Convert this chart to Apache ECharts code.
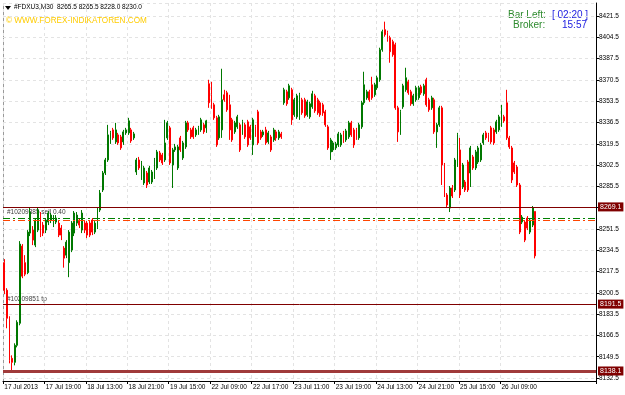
<!DOCTYPE html>
<html><head><meta charset="utf-8">
<script src="https://cdn.jsdelivr.net/npm/echarts@6/dist/echarts.min.js"></script>
<style>html,body{margin:0;padding:0;background:#fff}#c{width:625px;height:395px}</style>
</head><body><div id="c"></div>
<script>
const xTickLabels = ['17 Jul 2013','17 Jul 19:00','18 Jul 13:00','18 Jul 21:00','19 Jul 15:00','22 Jul 09:00','22 Jul 17:00','23 Jul 11:00','23 Jul 19:00','24 Jul 13:00','24 Jul 21:00','25 Jul 15:00','26 Jul 09:00'];
const opens = [
8224.6,8202.6,8180.2,8148.2,8145,8158.6,8176.2,8237.8,8224.6,8216.6,
8248.2,8250.6,8238.6,8250.6,8262.6,8254.6,8250.6,8257,8258.6,8254.6,
8257,8256.2,8252.2,8236.2,8230.6,8224.6,8234.6,8248.2,8256.2,8258.6,
8250.6,8256.2,8256.2,8256.2,8258.6,8249,8253,8266.6,8282.6,8296.2,
8306.6,8321,8330.6,8321,8326.6,8325,8321,8328.2,8328.2,8330.6,
8324.2,8297,8306.6,8293,8288.2,8296.2,8289,8289,8293,8300.2,
8312.2,8310.6,8306.6,8324.2,8332.2,8302.6,8314.6,8300.2,8324.2,8308.2,
8317,8336.2,8330.6,8332.2,8326.6,8328.2,8330.6,8334.6,8332.2,8367.4,
8358.6,8350.6,8340.2,8324.2,8330.6,8358.6,8360.2,8350.6,8338.6,8329,
8333,8334.6,8328.2,8334.6,8337,8333,8318.6,8333,8345,8329,
8326.6,8330.6,8321,8325,8322.6,8329,8324.2,8327.4,8352.2,8361,
8356.2,8362.6,8342.6,8341,8340.2,8354.6,8354.6,8342.6,8341,8349,
8357.8,8354.6,8352.2,8350.6,8345,8333,8313,8314.6,8316.2,8318.6,
8318.6,8328.2,8322.6,8325,8336.2,8330.6,8330.6,8324.2,8333,8352.2,
8356.2,8361,8366.6,8358.6,8364.2,8370.6,8394.6,8410.6,8408.2,8404.2,
8401,8398.6,8348.2,8328.2,8349,8362.6,8369,8361,8351.4,8354.6,
8356.2,8365,8359.4,8370.6,8354.6,8348.2,8354.6,8329,8334.6,8348.2,
8302.6,8278.6,8268.2,8284.2,8282.6,8302.6,8314.6,8285,8289,8305,
8296.2,8309,8300.2,8305,8306.6,8320.2,8328.2,8326.6,8332.2,8330.6,
8329,8330.6,8334.6,8341,8352.2,8324.2,8316.2,8304.2,8301,8286.6,
8257,8257,8260.2,8249,8254.6,8265.5];
const closes = [
8202.6,8180.2,8146.6,8145,8158.6,8177,8239.4,8213.8,8215.4,8249,
8265,8242.6,8258.6,8266.6,8246.6,8248.2,8258.6,8264.2,8262.6,8260.2,
8260.2,8246.6,8246.6,8228.2,8241,8249,8256.2,8264.2,8262.6,8254.6,
8264.2,8250.6,8246.6,8246.6,8249,8256.2,8266.6,8280.2,8296.2,8306.6,
8326.6,8328.2,8324.2,8330.6,8320.2,8316.2,8329,8330.6,8337.8,8321.8,
8327.4,8306.6,8300.2,8304.2,8300.2,8286.6,8300.2,8297,8306.6,8313,
8306.6,8304.2,8320.2,8336.2,8304.2,8314.6,8317,8317,8314.6,8320.2,
8336.2,8330.6,8325,8325,8330.6,8332.2,8338.6,8329,8337.8,8352.2,
8349,8340.2,8318.6,8341,8354.6,8354.6,8346.6,8330.6,8322.6,8336.2,
8341,8314.6,8337,8325,8318.6,8324.2,8338.6,8326.6,8320.2,8324.2,
8329,8320.2,8328.2,8314.6,8330.6,8324.2,8329,8325,8362.6,8351.4,
8365.8,8338.6,8354.6,8357.8,8358.6,8344.2,8341.8,8353,8351.4,8359.4,
8345.8,8344.2,8342.6,8344.2,8334.6,8316.2,8322.6,8320.2,8319.4,8327.4,
8326.6,8321.8,8329.8,8336.2,8326.6,8318.6,8324.2,8334.6,8352.2,8366.6,
8361,8354.6,8356.2,8366.6,8372.2,8394.6,8409,8406.6,8402.6,8393,
8390.6,8348.2,8329,8345,8365.8,8372.2,8360.2,8351.4,8357.8,8364.2,
8364.2,8360.2,8365.8,8350.6,8346.6,8356.2,8329,8334.6,8348.2,8302.6,
8278.6,8270.6,8284.2,8277.8,8306.6,8326.6,8278.6,8302.6,8282.6,8282.6,
8316.2,8300.2,8313,8316.2,8318.6,8326.6,8324.2,8322.6,8321,8320.2,
8337,8341,8348.2,8337.8,8324.2,8317,8290.6,8297,8286.6,8249,
8261,8242.6,8252.2,8258.6,8268.2,8230.0];
const lows = [
8199.4,8172.2,8144.2,8137,8142.6,8157,8174.6,8212.2,8213.8,8215.4,
8245.8,8238.6,8237,8249,8245,8245.8,8248.2,8254.6,8256.2,8253,
8255.4,8245,8242.6,8220.6,8228.2,8213,8233,8245.8,8253.8,8252.2,
8248.2,8248.2,8244.2,8245,8246.6,8247.4,8251.4,8265,8281,8294.6,
8305,8319.4,8322.6,8319.4,8318.6,8314.6,8318.6,8326.6,8326.6,8320.2,
8322.6,8294.6,8298.6,8290.6,8286.6,8284.2,8287.4,8287.4,8291.4,8298.6,
8305,8302.6,8305,8322.6,8302.6,8284.2,8313,8298.6,8313,8306.6,
8315.4,8329,8323.4,8323.4,8325,8326.6,8329,8327.4,8328.2,8348.2,
8347.4,8338.6,8317,8322.6,8324.2,8353,8345,8322.6,8321,8327.4,
8331.4,8313,8326.6,8323.4,8317,8322.6,8310.6,8325,8318.6,8322.6,
8325,8318.6,8319.4,8313,8321,8321.8,8322.6,8323.4,8350.6,8349.8,
8354.6,8334.6,8341,8339.4,8338.6,8342.6,8340.2,8341,8339.4,8347.4,
8344.2,8342.6,8341,8341.8,8333,8314.6,8306.6,8313,8314.6,8317,
8317,8320.2,8321,8323.4,8325,8316.2,8322.6,8322.6,8331.4,8350.6,
8354.6,8353,8354.6,8357,8362.6,8369,8393,8405,8401,8384.2,
8389,8346.6,8321,8326.6,8347.4,8361,8358.6,8349.8,8349.8,8353,
8354.6,8358.6,8357.8,8349,8345,8346.6,8327.4,8316.2,8333,8286.6,
8277,8268.2,8265,8276.2,8281,8301,8276.2,8283.4,8281,8281,
8285,8298.6,8298.6,8303.4,8305,8318.6,8322.6,8321,8319.4,8318.6,
8327.4,8329,8333,8336.2,8322.6,8315.4,8288.2,8295.4,8285,8247.4,
8255.4,8241,8250.6,8247.4,8253,8228.0];
const highs = [
8227.4,8204.2,8181.8,8150.6,8160.2,8178.6,8241.8,8239.4,8230.6,8250.6,
8268.2,8253.8,8260.2,8269,8265,8257,8260.2,8265.8,8264.2,8262.6,
8262.6,8258.6,8254.6,8237.8,8242.6,8250.6,8257.8,8265.8,8265,8260.2,
8266.6,8258.6,8257.8,8257.8,8260.2,8257.8,8268.2,8282.6,8297.8,8308.2,
8334.6,8329.8,8332.2,8336.2,8328.2,8326.6,8330.6,8332.2,8340.2,8332.2,
8329,8308.2,8309,8305.8,8301.8,8297.8,8301.8,8298.6,8308.2,8314.6,
8313.8,8312.2,8338.6,8337.8,8333.8,8316.2,8319.4,8318.6,8325.8,8321.8,
8337.8,8337.8,8332.2,8333.8,8332.2,8333.8,8340.2,8336.2,8338.6,8370.6,
8369,8352.2,8341.8,8342.6,8379.4,8362.6,8361.8,8358.6,8340.2,8337.8,
8342.6,8336.2,8338.6,8336.2,8338.6,8334.6,8340.2,8334.6,8346.6,8330.6,
8330.6,8333,8329.8,8326.6,8332.2,8330.6,8330.6,8329,8364.2,8362.6,
8367.4,8364.2,8356.2,8359.4,8360.2,8356.2,8356.2,8354.6,8353,8361.8,
8359.4,8356.2,8353.8,8352.2,8346.6,8334.6,8324.2,8321.8,8321,8329,
8328.2,8329.8,8331.4,8337.8,8337.8,8332.2,8332.2,8336.2,8353.8,8377,
8362.6,8362.6,8373,8368.2,8373.8,8396.2,8410.6,8417,8409.8,8405.8,
8402.6,8400.2,8349.8,8346.6,8367.4,8380.2,8370.6,8362.6,8359.4,8365.8,
8365.8,8366.6,8367.4,8372.2,8356.2,8357.8,8356.2,8336.2,8349.8,8349.8,
8304.2,8280.2,8285.8,8286.6,8308.2,8328.2,8324.2,8304.2,8290.6,8306.6,
8317.8,8310.6,8314.6,8317.8,8320.2,8328.2,8329.8,8328.2,8333.8,8332.2,
8338.6,8342.6,8350.6,8342.6,8362.6,8325.8,8317.8,8305.8,8302.6,8288.2,
8262.6,8258.6,8261.8,8260.2,8269.8,8265.5];
const levelUpper = 8269.1, levelTP = 8191.5, levelLow = 8138.1, bidPrice = 8230.0;
const orderOpen = 8260.0, orderStop = 8258.3;
const yTicks = {min: 8132.5, max: 8431.9, step: 17};

const SLOTS = 229, LABEL_EVERY = 16;
const cats = Array.from({length: SLOTS}, (_, i) => String(i));
const candles = opens.map((o, i) => [o, closes[i], lows[i], highs[i]]);
const isLab = (i) => i % LABEL_EVERY === 0 && i / LABEL_EVERY < xTickLabels.length;
const F = 'Liberation Sans, Arial, sans-serif';
const boxLabel = (bg) => ({show: true, position: 'end', distance: 2, formatter: (p) => p.value.toFixed(1),
  color: '#fff', backgroundColor: bg, padding: [1, 2, 0, 2], fontSize: 7, fontFamily: F, lineHeight: 8});

const chart = echarts.init(document.getElementById('c'), null, {renderer: 'canvas'});
chart.setOption({
  animation: false,
  backgroundColor: '#fff',
  grid: {left: 3, right: 29, top: 3, bottom: 17, show: false},
  xAxis: {
    type: 'category', data: cats, boundaryGap: true, offset: 3,
    axisLine: {show: true, lineStyle: {color: '#000', width: 1}},
    axisTick: {show: true, interval: (i) => isLab(i), length: 3, lineStyle: {color: '#000'}},
    axisLabel: {interval: (i) => isLab(i), formatter: (v, i) => xTickLabels[i / LABEL_EVERY] || '',
      align: 'left', fontSize: 6.5, fontFamily: F, color: '#000', margin: 3},
    splitLine: {show: true, interval: (i) => isLab(i), lineStyle: {type: [3, 3], color: '#e3e3e3'}}
  },
  yAxis: {
    type: 'value', position: 'right', min: yTicks.min, max: yTicks.max, interval: yTicks.step, scale: true,
    axisLine: {show: true, lineStyle: {color: '#000'}},
    axisTick: {show: true, length: 3, lineStyle: {color: '#000'}},
    axisLabel: {formatter: (v) => v.toFixed(1), fontSize: 6.5, fontFamily: F, color: '#000', margin: 3,
      showMaxLabel: false},
    splitLine: {show: true, lineStyle: {type: [3, 3], color: '#e3e3e3'}}
  },
  series: [{
    type: 'candlestick', data: candles, barWidth: 1.4,
    itemStyle: {color: '#007800', color0: '#ff0000', borderColor: '#007800', borderColor0: '#ff0000', borderWidth: 1},
    markLine: {
      symbol: ['none', 'none'], silent: true, animation: false,
      data: [
        {yAxis: orderOpen, lineStyle: {color: '#008000', width: 1, type: [7, 3, 2, 3]}, label: {show: false}},
        {yAxis: orderStop, lineStyle: {color: '#ff4500', width: 1, type: [7, 3, 2, 3]}, label: {show: false}},
        {yAxis: levelUpper, lineStyle: {color: '#800000', width: 1, type: 'solid'}, label: boxLabel('#800000')},
        {yAxis: levelTP, lineStyle: {color: '#800000', width: 1, type: 'solid'}, label: boxLabel('#800000')},
        {yAxis: levelLow, lineStyle: {color: '#a03a3a', width: 3, type: 'solid'}, label: boxLabel('#800000')},
        {yAxis: bidPrice, lineStyle: {opacity: 0}, label: boxLabel('#000')}
      ]
    }
  }],
  graphic: [
    {type: 'line', shape: {x1: 3.5, y1: 3, x2: 3.5, y2: 381}, style: {stroke: '#9a9a9a', lineWidth: 1}},
    {type: 'line', shape: {x1: 596.5, y1: 377, x2: 596.5, y2: 381}, style: {stroke: '#000', lineWidth: 1}},
    {type: 'polygon', shape: {points: [[5, 6], [11, 6], [8, 10]]}, style: {fill: '#000'}},
    {type: 'text', left: 14, top: 4, style: {text: '#FDXU3,M30  8265.5 8265.5 8228.0 8230.0', font: '6.5px ' + F, fill: '#000'}},
    {type: 'text', left: 6, top: 17, style: {text: '© WWW.FOREX-INDIKATOREN.COM', font: '8.2px ' + F, fill: '#ffcc00'}},
    {type: 'text', left: 508, top: 10, style: {text: 'Bar Left:', font: '10px ' + F, fill: '#2e8b2e'}},
    {type: 'text', left: 552, top: 10, style: {text: '[ 02:20 ]', font: '10px ' + F, fill: '#2020e0'}},
    {type: 'text', left: 513, top: 20, style: {text: 'Broker:', font: '10px ' + F, fill: '#2e8b2e'}},
    {type: 'text', left: 562, top: 20, style: {text: '15:57', font: '10px ' + F, fill: '#2020e0'}},
    {type: 'text', left: 7, top: 209, style: {text: '#10209885 sell 0.40', font: '6.5px ' + F, fill: '#404040'}},
    {type: 'text', left: 7, top: 296, style: {text: '#10209851 tp', font: '6.5px ' + F, fill: '#404040'}}
  ]
});
</script></body></html>
